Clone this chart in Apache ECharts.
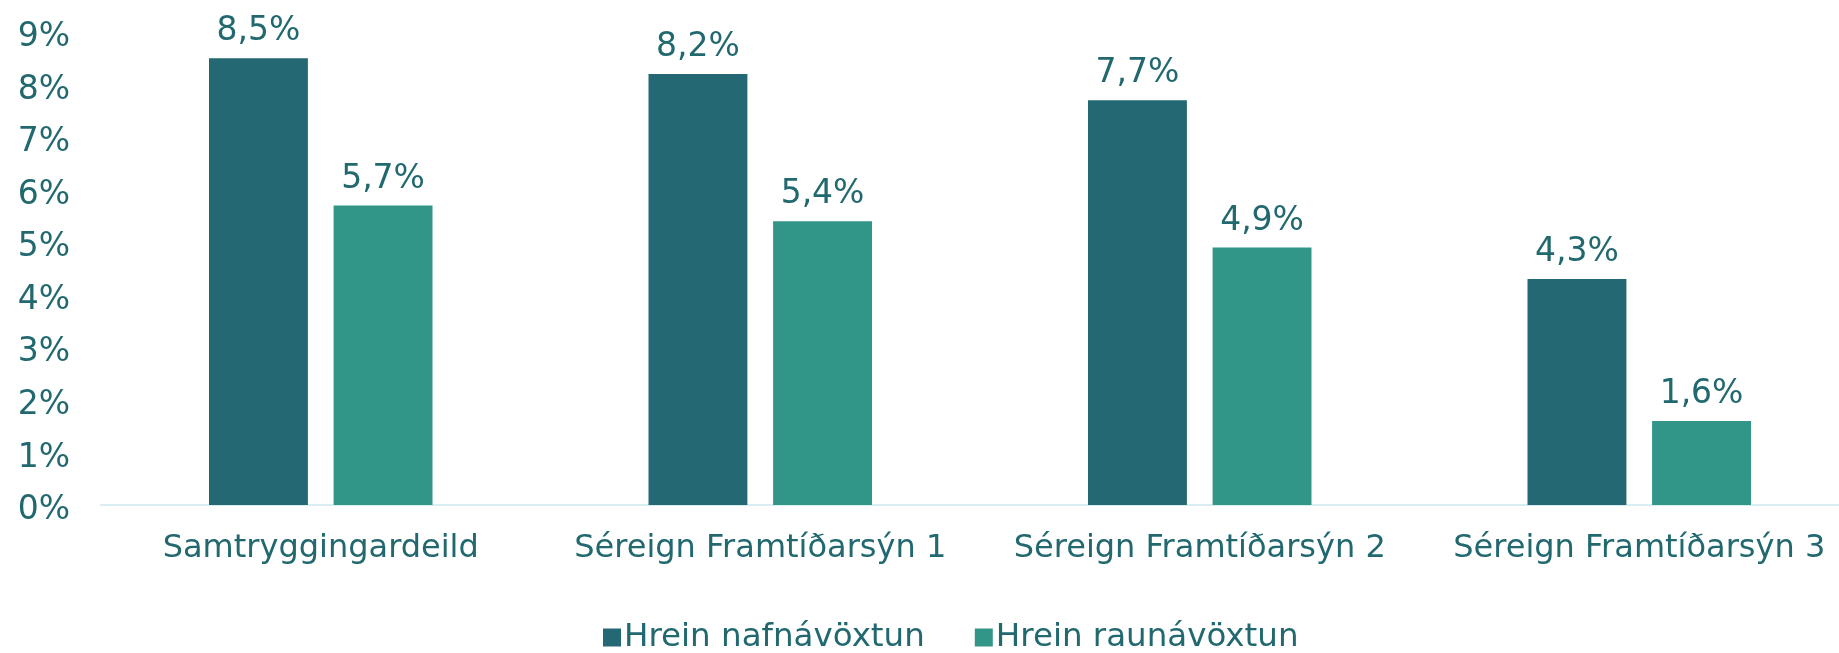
<!DOCTYPE html>
<html>
<head>
<meta charset="utf-8">
<script src="https://cdn.jsdelivr.net/npm/echarts@6/dist/echarts.min.js"></script>
<style>
  html, body { margin: 0; padding: 0; background: #fff; overflow: hidden; }
  /* the plot runs a little past the right edge, as in the source picture */
  #chart { width: 1859px; height: 653px; }
</style>
</head>
<body>
<div id="chart"></div>
<script>
const categories = ['Samtryggingardeild', 'Séreign Framtíðarsýn 1', 'Séreign Framtíðarsýn 2', 'Séreign Framtíðarsýn 3']
const nafnvoxtun = [8.5, 8.2, 7.7, 4.3]
const raunvoxtun = [5.7, 5.4, 4.9, 1.6]
const seriesNames = ['Hrein nafnávöxtun', 'Hrein raunávöxtun']

const textColor = '#21686f'
const darkColor = '#236872'
const tealColor = '#319587'
const font = 'DejaVu Sans'

const pct = v => String(v).replace('.', ',') + '%'

const labelStyle = {
    show: true,
    position: 'top',
    distance: 10,
    color: textColor,
    fontFamily: font,
    fontSize: 33,
    formatter: p => pct(p.value)
}

const chart = echarts.init(document.getElementById('chart'))
chart.setOption({
    animation: false,
    textStyle: { fontFamily: font },
    grid: {
        left: 101,
        right: 0,
        top: 32,
        bottom: 148,
        containLabel: false
    },
    legend: {
        data: seriesNames,
        left: 598,
        top: 616,
        itemWidth: 18,
        itemHeight: 18,
        itemGap: 50,
        icon: 'rect',
        textStyle: { color: textColor, fontFamily: font, fontSize: 32.5, padding: [0, 0, 0, -2] }
    },
    xAxis: {
        type: 'category',
        data: categories,
        axisLine: { lineStyle: { color: '#d9eef2', width: 2 } },
        axisTick: { show: false },
        axisLabel: { color: textColor, fontFamily: font, fontSize: 32, margin: 28, interval: 0 }
    },
    yAxis: {
        type: 'value',
        min: 0,
        max: 9,
        interval: 1,
        splitLine: { show: false },
        axisLine: { show: false },
        axisTick: { show: false },
        axisLabel: {
            color: textColor,
            margin: 31,
            formatter: v => '{t|' + v + '%}',
            rich: {
                t: { color: textColor, fontFamily: font, fontSize: 33, padding: [11, 0, 0, 0] }
            }
        }
    },
    series: [
        {
            name: seriesNames[0],
            type: 'bar',
            data: nafnvoxtun,
            barWidth: '22.5%',
            barGap: '26%',
            itemStyle: { color: darkColor },
            label: labelStyle
        },
        {
            name: seriesNames[1],
            type: 'bar',
            data: raunvoxtun,
            barWidth: '22.5%',
            barGap: '26%',
            itemStyle: { color: tealColor },
            label: labelStyle
        }
    ]
})
</script>
</body>
</html>
